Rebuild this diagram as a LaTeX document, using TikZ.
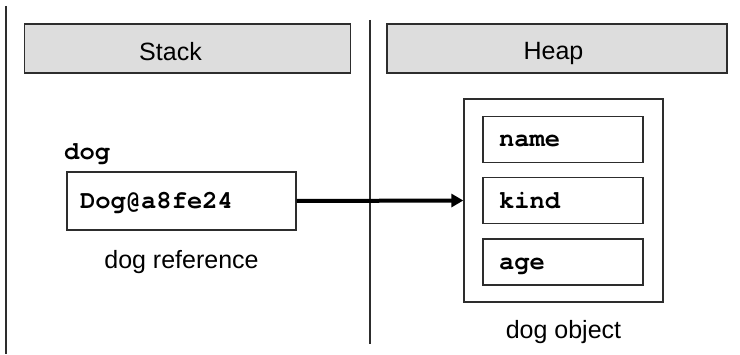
\documentclass[tikz,border=0pt]{standalone}
\usepackage{fontspec}
\setmainfont{Liberation Sans}
\setmonofont{TeX Gyre Cursor}
\usepackage{tikz}
\usetikzlibrary{positioning,arrows.meta}
\definecolor{grisfondo}{RGB}{221,221,221}
\definecolor{borde}{RGB}{45,45,45}

\begin{document}
\begin{tikzpicture}[x=1pt, y=-1pt,
  encabezado/.style={draw=borde, line width=1.8pt, fill=grisfondo,
                     minimum height=49pt, inner sep=0pt},
  celda/.style={draw=borde, line width=1.3pt, inner xsep=13pt,
                text width=203pt, minimum height=58pt, align=left,
                text height=19pt, text depth=3pt,
                font=\fontsize{25.5}{30}\selectfont\ttfamily\bfseries},
  campo/.style={draw=borde, line width=1.3pt, inner xsep=16pt,
                text width=128pt, minimum height=46pt, align=left,
                text height=18pt, text depth=3.5pt,
                font=\fontsize{25.5}{30}\selectfont\ttfamily\bfseries},
  etiqueta/.style={inner sep=0pt, font=\fontsize{25}{29}\selectfont},
  flecha/.style={-{Triangle[length=12pt, width=13pt]}, line width=4pt}]
  \useasboundingbox (0,0) rectangle (740,355);
  % divisiones
  \coordinate (izqA) at (6,6);
  \coordinate (izqB) at (6,354);
  \coordinate (midA) at (370,20);
  \coordinate (midB) at (370,344);
  \draw[line width=1.3pt, borde] (izqA) -- (izqB);
  \draw[line width=1.3pt, borde] (midA) -- (midB);
  % cabeceras
  \node[encabezado, minimum width=326pt] (pila) at (187.5,48.5) {};
  \node[encabezado, minimum width=340pt] (mont) at (557,48.5) {};
  \node[etiqueta, anchor=base] (pilatxt)
       at ([xshift=-17pt, yshift=-12.5pt]pila.center) {Stack};
  \node[etiqueta, anchor=base] (monttxt)
       at ([xshift=-3.5pt, yshift=-11.5pt]mont.center) {Heap};
  % referencia
  \node[celda] (ref) at (181.5,201) {Dog@a8fe24};
  \node[etiqueta, anchor=base west,
        font=\fontsize{25.5}{30}\selectfont\ttfamily\bfseries]
       (var) at (64,160) {dog};
  \node[etiqueta, below=20pt of ref] (refnom) {dog reference};
  % objeto
  \node[draw=borde, line width=1.3pt, minimum width=199pt,
        minimum height=203pt] (obj) at (563.5,200.5) {};
  \node[campo] (nombre) at (563,139.5) {name};
  \node[campo, below=14pt of nombre] (tipo) {kind};
  \node[campo, below=14pt of tipo] (edad) {age};
  \node[etiqueta, below=17.5pt of obj] (objnom) {dog object};
  \draw[flecha] (ref.east) -- (obj.west);
\end{tikzpicture}
\end{document}
